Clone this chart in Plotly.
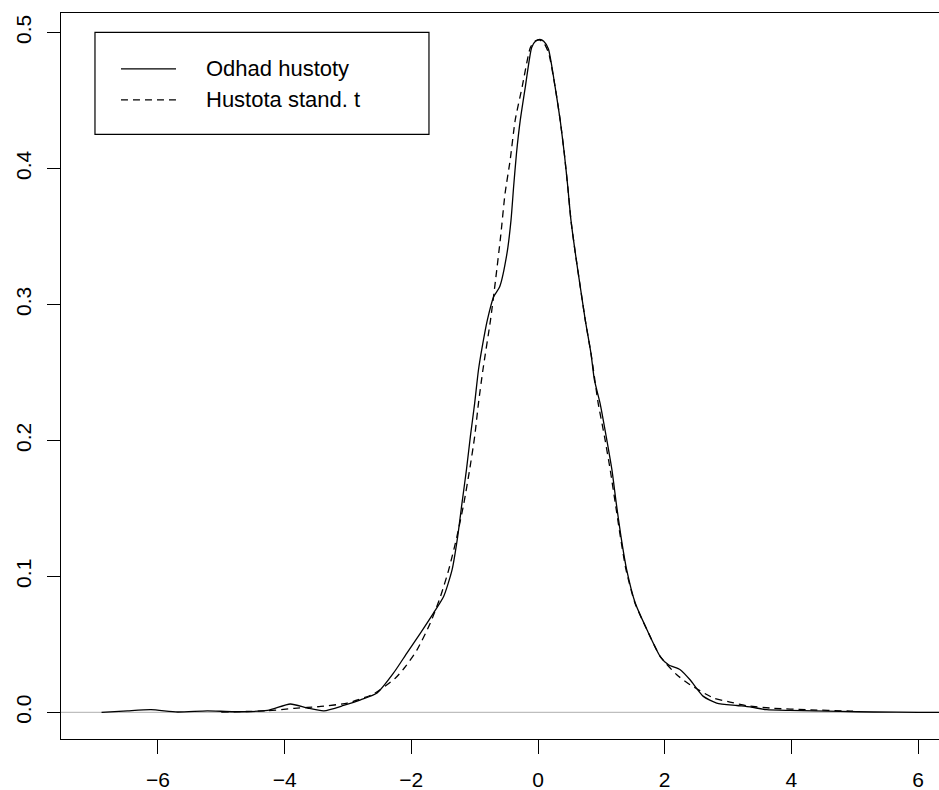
import plotly.graph_objects as go

# Kernel density estimate ("Odhad hustoty")
x_kde = [-6.89, -6.48, -6.11, -5.69, -5.22, -4.80, -4.27, -3.91, -3.64, -3.38, -3.07, -2.80,
         -2.54, -2.28, -2.07, -1.856, -1.65, -1.49, -1.357, -1.268, -1.20, -1.13, -1.068,
         -1.00, -0.94, -0.88, -0.80, -0.70, -0.605, -0.49, -0.426, -0.385, -0.34, -0.28,
         -0.20, -0.10, -0.04, 0.03, 0.09, 0.163, 0.27, 0.35, 0.415, 0.47, 0.52, 0.59, 0.667,
         0.746, 0.836, 0.89, 0.98, 1.077, 1.167, 1.235, 1.31, 1.40, 1.535, 1.72, 1.93, 2.06,
         2.245, 2.40, 2.61, 2.82, 3.14, 3.35, 3.61, 3.98, 4.35, 4.77, 5.3, 6.0, 7.0, 8.6]
y_kde = [0.0, 0.0012, 0.002, 0.0003, 0.0012, 0.0005, 0.0015, 0.0062, 0.0032, 0.0012, 0.0051, 0.0093,
         0.0143, 0.029, 0.0436, 0.0583, 0.0730, 0.0852, 0.1048, 0.1293, 0.1539, 0.1783, 0.2028,
         0.2273, 0.2518, 0.269, 0.2885, 0.3057, 0.313, 0.3375, 0.362, 0.3865, 0.411, 0.4355,
         0.460, 0.489, 0.4935, 0.4948, 0.4935, 0.488, 0.460, 0.4355, 0.411, 0.3865, 0.362, 0.3375, 0.313,
         0.2885, 0.264, 0.2445, 0.2273, 0.2028, 0.1783, 0.1539, 0.1293, 0.1048, 0.0804, 0.0608, 0.0411, 0.035,
         0.0314, 0.024, 0.0118, 0.0069, 0.0051, 0.0040, 0.002, 0.0015, 0.0012, 0.0007, 0.0003, 0.0001, 0.0, 0.0]

# Standardized t density ("Hustota stand. t")
x_t = [-5.0, -4.27, -3.85, -3.43, -3.01, -2.59, -2.25, -2.09, -1.91, -1.70, -1.54, -1.41, -1.28,
       -1.17, -1.08, -1.0, -0.94, -0.87, -0.75, -0.67, -0.59, -0.52, -0.44, -0.36, -0.25, -0.12,
       -0.05, 0.02, 0.09, 0.17, 0.27, 0.35, 0.415, 0.47, 0.52, 0.59, 0.667, 0.746, 0.836, 0.875, 0.95,
       1.05, 1.14, 1.22, 1.30, 1.39, 1.53, 1.72, 1.93, 2.19, 2.40, 2.77, 3.03, 3.30, 3.72,
       4.24, 4.93, 5.0]
y_t = [0.0003, 0.0012, 0.003, 0.0044, 0.0069, 0.0137, 0.0253, 0.0338, 0.046, 0.0657, 0.0852, 0.1048, 0.1293,
       0.1539, 0.1783, 0.2028, 0.2273, 0.2518, 0.2885, 0.318, 0.350, 0.3816, 0.406, 0.4355, 0.460, 0.489,
       0.4935, 0.4945, 0.4925, 0.4845, 0.460, 0.4355, 0.411, 0.3865, 0.362, 0.3375, 0.313, 0.2885, 0.264, 0.2518, 0.2273,
       0.2028, 0.1783, 0.1539, 0.1293, 0.1048, 0.0804, 0.0608, 0.0411, 0.0277, 0.0204, 0.0106, 0.0076, 0.0049, 0.003,
       0.002, 0.001, 0.001]

x_ticks = [-6, -4, -2, 0, 2, 4, 6]
y_ticks = [0.0, 0.1, 0.2, 0.3, 0.4, 0.5]
y_tick_labels = ["0.0", "0.1", "0.2", "0.3", "0.4", "0.5"]
legend_labels = ["Odhad hustoty", "Hustota stand. t"]

FONT = "Liberation Sans, Arial, sans-serif"

fig = go.Figure()
fig.add_trace(go.Scatter(x=x_kde, y=y_kde, mode="lines", name=legend_labels[0],
                         line=dict(color="black", width=1.3, shape="spline", smoothing=0.6),
                         showlegend=False))
fig.add_trace(go.Scatter(x=x_t, y=y_t, mode="lines", name=legend_labels[1],
                         line=dict(color="black", width=1.3, dash="7px,5px", shape="spline", smoothing=0.6),
                         showlegend=False))

shapes = [
    # gray zero line
    dict(type="line", xref="paper", yref="y", x0=0, x1=1, y0=0, y1=0,
         line=dict(color="#bebebe", width=1.2), layer="below"),
    # legend box
    dict(type="rect", xref="paper", yref="paper", x0=0.0387, x1=0.4191, y0=0.8329, y1=0.9734,
         line=dict(color="black", width=1.2), fillcolor="white"),
    dict(type="line", xref="paper", yref="paper", x0=0.0683, x1=0.1310, y0=0.9229, y1=0.9229,
         line=dict(color="black", width=1.3)),
    dict(type="line", xref="paper", yref="paper", x0=0.0683, x1=0.1310, y0=0.8802, y1=0.8802,
         line=dict(color="black", width=1.3, dash="7px,5px")),
]
annotations = [
    dict(xref="paper", yref="paper", x=0.1629, y=0.9229, text=legend_labels[0], showarrow=False,
         xanchor="left", yanchor="middle", font=dict(family=FONT, size=22, color="black")),
    dict(xref="paper", yref="paper", x=0.1629, y=0.8802, text=legend_labels[1], showarrow=False,
         xanchor="left", yanchor="middle", font=dict(family=FONT, size=22, color="black")),
]

fig.update_layout(
    width=939, height=790,
    margin=dict(l=61, r=0, t=13, b=51),
    paper_bgcolor="white", plot_bgcolor="white",
    font=dict(family=FONT, size=21, color="black"),
    shapes=shapes, annotations=annotations,
    xaxis=dict(range=[-7.53, 6.33], tickmode="array", tickvals=x_ticks,
               ticktext=["\u2212" + str(-v) if v < 0 else str(v) for v in x_ticks],
               showgrid=False, zeroline=False, showline=True, linecolor="black", linewidth=1.2,
               mirror=True, ticks="outside", ticklen=14, tickcolor="black", tickwidth=1.2,
               ticklabelstandoff=8, automargin=False, tickfont=dict(family=FONT, size=21)),
    yaxis=dict(range=[-0.01955, 0.5143], tickmode="array", tickvals=y_ticks, ticktext=y_tick_labels,
               showgrid=False, zeroline=False, showline=True, linecolor="black", linewidth=1.2,
               ticks="outside", ticklen=13, tickcolor="black", tickwidth=1.2, tickangle=-90,
               ticklabelstandoff=8, automargin=False, tickfont=dict(family=FONT, size=21)),
)

fig.write_html("out.html")
